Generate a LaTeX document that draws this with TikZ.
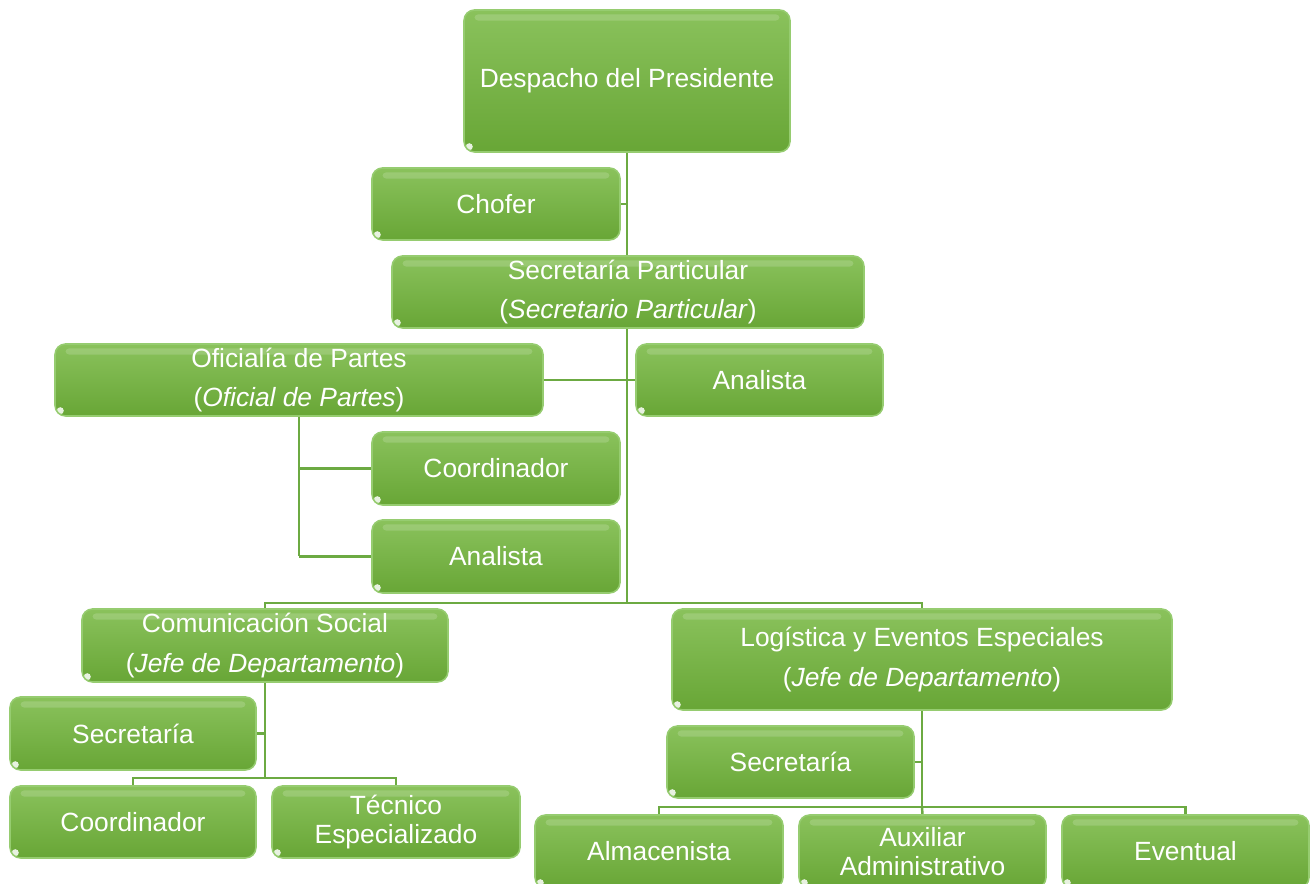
\documentclass[tikz,border=0pt]{standalone}
\usepackage{fontspec}
\setmainfont{Liberation Sans}
\usetikzlibrary{backgrounds}
\definecolor{boxtop}{RGB}{138,194,92}
\definecolor{boxbot}{RGB}{104,166,54}
\definecolor{boxedge}{RGB}{150,204,112}
\definecolor{linkgreen}{RGB}{108,170,66}
\begin{document}
\begin{tikzpicture}[x=0.02cm,y=-0.02cm,
  wh/.style 2 args={minimum width=#1*0.02cm, minimum height=#2*0.02cm},
  box/.style={rounded corners=6pt, inner sep=0pt, top color=boxtop, bottom color=boxbot,
    draw=boxedge, line width=0.9pt, text=white, align=center,
    font=\fontsize{15}{16.5}\selectfont,
    path picture={
      \fill[white,opacity=0.16,rounded corners=2pt]
        ([xshift=6pt,yshift=-2.5pt]path picture bounding box.north west)
        rectangle ([xshift=-6pt,yshift=-6pt]path picture bounding box.north east);
      \fill[white,opacity=0.85]
        ([xshift=3pt,yshift=3pt]path picture bounding box.south west) circle (2pt);
    }},
  link/.style={draw=linkgreen, line width=1.4pt}]
\useasboundingbox (0,0) rectangle (1313,884);
\clip (0,0) rectangle (1313,884);

% top of the hierarchy
\node[box, wh={326}{142}] (desp) at (627,81) {Despacho del Presidente};
\node[box, wh={248}{72}] (chofer) at (496,204) {Chofer};
\node[box, wh={472}{72}] (secp) at (628,292) {Secretaría Particular\\[6pt](\textit{Secretario Particular})};

% second level
\node[box, wh={488}{72}] (ofi) at (299,380) {Oficialía de Partes\\[6pt](\textit{Oficial de Partes})};
\node[box, wh={247}{72}] (ana1) at (759.5,380) {Analista};
\node[box, wh={248}{73}] (coord1) at (496,468.5) {Coordinador};
\node[box, wh={248}{73}] (ana2) at (496,556.5) {Analista};

% departments
\node[box, wh={366}{73}] (com) at (265,645.5) {Comunicación Social\\[6pt](\textit{Jefe de Departamento})};
\node[box, wh={500}{101}] (log) at (922,659.5) {Logística y Eventos Especiales\\[6pt](\textit{Jefe de Departamento})};

% Comunicación Social staff
\node[box, wh={246}{73}] (sec1) at (133,733.5) {Secretaría};
\node[box, wh={246}{72}] (coord2) at (133,822) {Coordinador};
\node[box, wh={248}{72}] (tec) at (396,822) {Técnico\\Especializado};

% Logística staff
\node[box, wh={247}{72}] (sec2) at (790.5,762) {Secretaría};
\node[box, wh={248}{73}] (alm) at (659,851.5) {Almacenista};
\node[box, wh={247}{73}] (aux) at (922.5,851.5) {Auxiliar\\Administrativo};
\node[box, wh={247}{73}] (evt) at (1185.5,851.5) {Eventual};

% junction points of the connectors
\coordinate (j1) at (627,603);
\coordinate (j2) at (265,778);
\coordinate (j3) at (922,807);

% connectors run behind the boxes
\begin{pgfonlayer}{background}
\draw[link] (desp.south) -- (j1);
\draw[link] (chofer.east) -- (chofer.east -| desp.south);
\draw[link] (ofi.east) -- (ana1.west);
\draw[link] (ofi.south) -- (ofi.south |- ana2.west);
\draw[link] (coord1.west) -- (coord1.west -| ofi.south);
\draw[link] (ana2.west) -- (ana2.west -| ofi.south);
\draw[link] (com.north) |- (j1) -| (log.north);
\draw[link] (com.south) -- (j2);
\draw[link] (sec1.east) -- (sec1.east -| com.south);
\draw[link] (coord2.north) |- (j2) -| (tec.north);
\draw[link] (log.south) -- (j3);
\draw[link] (sec2.east) -- (sec2.east -| log.south);
\draw[link] (alm.north) |- (j3) -| (evt.north);
\draw[link] (aux.north) -- (j3);
\end{pgfonlayer}
\end{tikzpicture}
\end{document}
